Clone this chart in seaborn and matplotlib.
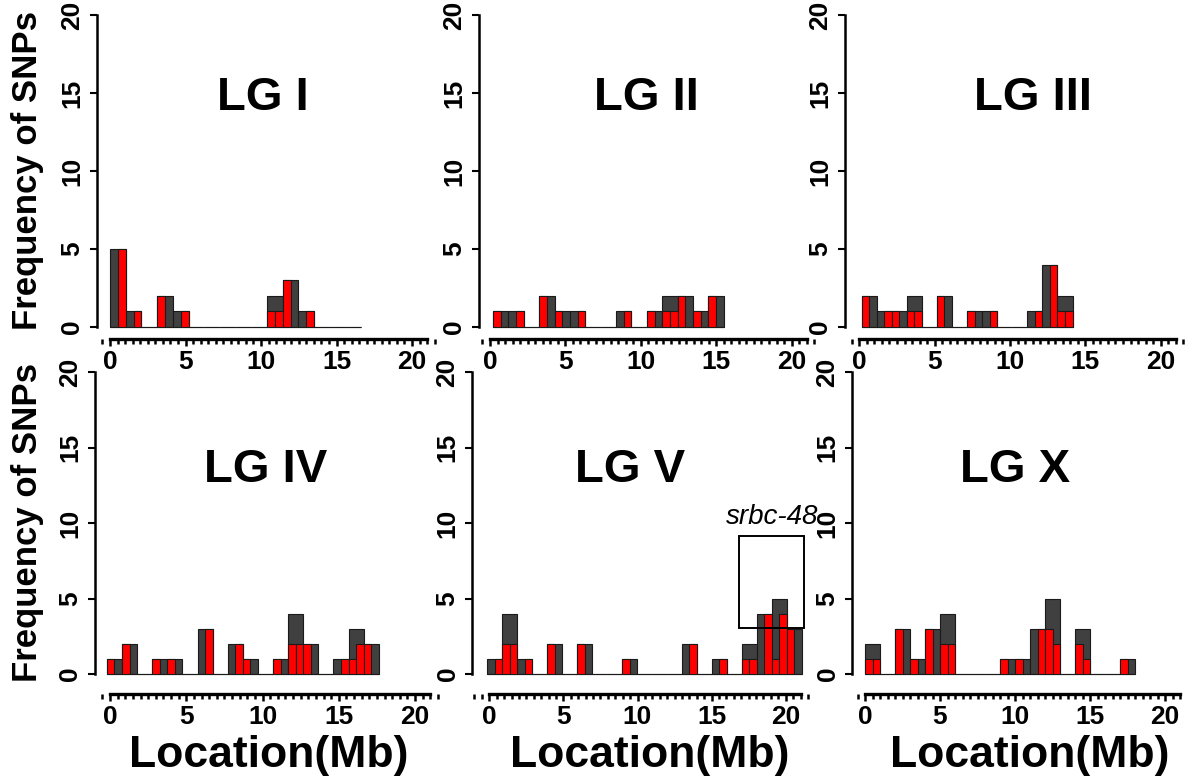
import numpy as np
import pandas as pd
import seaborn as sns
import matplotlib.pyplot as plt
from matplotlib.patches import Rectangle
from matplotlib.ticker import MultipleLocator

# SNP counts per 1 Mb bin (all SNPs, grey) and per 0.5 Mb half-bin (red subset)
chromosomes = ["LG I", "LG II", "LG III", "LG IV", "LG V", "LG X"]

lg1_all = [5, 1, 0, 2, 1, 0, 0, 0, 0, 0, 2, 3, 1, 0, 0, 0]
lg1_red = [(0, 5), (0, 1), (0, 0), (2, 0), (0, 1), (0, 0), (0, 0), (0, 0),
           (0, 0), (0, 0), (1, 1), (3, 0), (0, 1), (0, 0), (0, 0), (0, 0)]

lg2_all = [1, 1, 0, 2, 1, 1, 0, 0, 1, 0, 1, 2, 2, 1, 2]
lg2_red = [(1, 0), (0, 1), (0, 0), (2, 0), (1, 0), (0, 1), (0, 0), (0, 0),
           (0, 1), (0, 0), (1, 0), (1, 1), (2, 0), (1, 0), (2, 0)]

lg3_all = [2, 1, 1, 2, 0, 2, 0, 1, 1, 0, 0, 1, 4, 2]
lg3_red = [(2, 0), (0, 1), (1, 0), (1, 1), (0, 0), (2, 0), (0, 0), (1, 0),
           (0, 1), (0, 0), (0, 0), (0, 1), (0, 4), (1, 1)]

lg4_all = [1, 2, 0, 1, 1, 0, 3, 0, 2, 1, 0, 1, 4, 2, 0, 1, 3, 2]
lg4_red = [(1, 0), (2, 0), (0, 0), (1, 0), (1, 0), (0, 0), (0, 3), (0, 0), (0, 2),
           (1, 0), (0, 0), (1, 0), (2, 2), (2, 0), (0, 0), (0, 1), (1, 2), (2, 0)]

lg5_all = [1, 4, 1, 0, 2, 0, 2, 0, 0, 1, 0, 0, 0, 2, 0, 1, 0, 2, 4, 5, 3]
lg5_red = [(0, 1), (2, 2), (0, 1), (0, 0), (2, 0), (0, 0), (2, 0), (0, 0), (0, 0),
           (1, 0), (0, 0), (0, 0), (0, 0), (0, 2), (0, 0), (0, 1), (0, 0), (1, 1),
           (0, 4), (1, 4), (3, 0)]

lgx_all = [2, 0, 3, 1, 3, 4, 0, 0, 0, 1, 1, 3, 5, 0, 3, 0, 0, 1]
lgx_red = [(1, 1), (0, 0), (3, 0), (1, 0), (3, 0), (2, 2), (0, 0), (0, 0), (0, 0),
           (1, 0), (1, 0), (0, 3), (3, 2), (0, 0), (2, 1), (0, 0), (0, 0), (1, 0)]

all_counts = [lg1_all, lg2_all, lg3_all, lg4_all, lg5_all, lgx_all]
red_counts = [lg1_red, lg2_red, lg3_red, lg4_red, lg5_red, lgx_red]

# histogram bin origin and width (Mb) as drawn in each panel
bin_start = [0.0, 0.2, 0.15, -0.2, -0.13, 0.0]
bin_width = [1.04, 1.02, 1.0, 0.99, 1.01, 1.0]

# panel layout in pixels: x of 0 Mb, px per Mb, y-spine x, y of 0, px per SNP, x-axis line y
layout = [
    (110, 15.1, 97, 327, 15.6, 339),
    (490, 15.08, 479, 327, 15.6, 339),
    (859.3, 15.07, 845, 327, 15.6, 339),
    (110, 15.25, 95, 674, 15.1, 694),
    (489.3, 14.82, 472, 674, 15.1, 694),
    (865, 15.0, 852, 674, 15.1, 694),
]
title_pos = [(10.1, 13.9), (10.4, 13.9), (11.5, 13.9), (10.2, 12.7), (9.5, 12.7), (10.0, 12.7)]

W, H = 1186, 781
GRAY = "#404040"
RED = "#ff0000"
EDGE = "#1a1a1a"
X_RIGHT = 21.8
Y_TOP = 20.4

sns.set_theme(style="white")
plt.rcParams["font.family"] = ["Liberation Sans", "DejaVu Sans"]
plt.rcParams["font.weight"] = "bold"
plt.rcParams["text.color"] = "black"
plt.rcParams["axes.labelcolor"] = "black"
plt.rcParams["xtick.color"] = "black"
plt.rcParams["ytick.color"] = "black"

fig = plt.figure(figsize=(W / 100, H / 100), dpi=100)

for i, name in enumerate(chromosomes):
    x0, s, xs, y0, u, ya = layout[i]
    left_px = xs
    right_px = x0 + X_RIGHT * s
    top_px = y0 - Y_TOP * u
    ax = fig.add_axes([left_px / W, (H - ya) / H, (right_px - left_px) / W, (ya - top_px) / H])
    ax.patch.set_visible(False)

    start, w = bin_start[i], bin_width[i]
    n = len(all_counts[i])
    edges = start + w * np.arange(n + 1)
    df_all = pd.DataFrame({"pos": (edges[:-1] + edges[1:]) / 2, "n": all_counts[i]})
    sns.histplot(data=df_all, x="pos", weights="n", bins=edges.tolist(), color=GRAY, alpha=1,
                 edgecolor=EDGE, linewidth=0.8, ax=ax)

    half_edges = start + w / 2 * np.arange(2 * n + 1)
    df_red = pd.DataFrame({"pos": (half_edges[:-1] + half_edges[1:]) / 2,
                           "n": np.ravel(red_counts[i])})
    sns.histplot(data=df_red, x="pos", weights="n", bins=half_edges.tolist(), color=RED, alpha=1,
                 edgecolor=EDGE, linewidth=0.8, ax=ax)

    ax.set_xlim((xs - x0) / s, X_RIGHT)
    ax.set_ylim(-(ya - y0) / u, Y_TOP)
    ax.set_xlabel("")
    ax.set_ylabel("")

    for side in ["top", "right"]:
        ax.spines[side].set_visible(False)
    ax.spines["bottom"].set_bounds(0, 21)
    ax.spines["bottom"].set_linewidth(2.4)
    ax.spines["bottom"].set_color("black")
    ax.spines["left"].set_bounds(0, 20)
    ax.spines["left"].set_linewidth(1.8)
    ax.spines["left"].set_color("black")

    ax.set_xticks([0, 5, 10, 15, 20])
    ax.xaxis.set_minor_locator(MultipleLocator(0.5))
    ax.set_yticks([0, 5, 10, 15, 20])
    ax.tick_params(axis="x", which="major", direction="out", length=5, width=1.8,
                   labelsize=19, pad=3, bottom=True, colors="black")
    ax.tick_params(axis="x", which="minor", direction="out", length=3.5, width=1.8,
                   bottom=True, color="black")
    ax.tick_params(axis="y", direction="out", length=5, width=1.5, labelsize=19,
                   labelrotation=90, pad=4, left=True, colors="black")
    for lab in ax.get_xticklabels() + ax.get_yticklabels():
        lab.set_fontweight("bold")
    for lab in ax.get_yticklabels():
        lab.set_verticalalignment("center")

    tx, ty = title_pos[i]
    ax.text(tx, ty, name, ha="center", va="baseline", fontsize=34, fontweight="bold",
            color="black")

    if name == "LG V":
        ax.add_patch(Rectangle((16.87, 3.03), 4.38, 6.13, fill=False, edgecolor="black",
                               linewidth=1.4, clip_on=False))
        ax.text(19.1, 10.4, "srbc-48", ha="center", va="center", fontsize=20,
                fontstyle="italic", fontweight="normal", color="black")

# shared axis titles
for yc in [171, 522]:
    fig.text(28 / W, 1 - yc / H, "Frequency of SNPs", rotation=90, ha="center", va="center",
             fontsize=25, fontweight="bold", color="black")
for xc in [269, 650, 1030]:
    fig.text(xc / W, 1 - 755 / H, "Location(Mb)", ha="center", va="center",
             fontsize=32, fontweight="bold", color="black")

fig.savefig("out.png", dpi=100, facecolor="white")
